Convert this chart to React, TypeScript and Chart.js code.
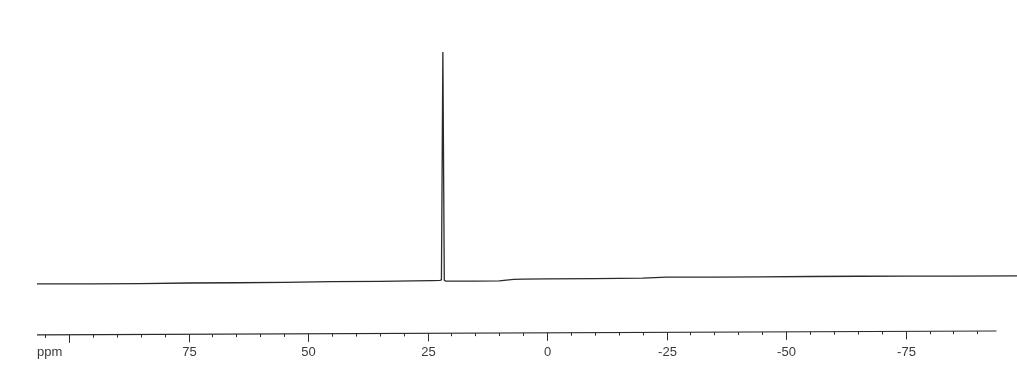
import React, { useEffect, useRef } from "react";
import { Chart, registerables } from "chart.js";

Chart.register(...registerables);

// Chemical shift (ppm) and intensity of the spectrum trace
const shiftPpm = [106.7, 95, 85, 75, 65, 55, 45, 35, 28, 24, 22.4, 22.1, 21.8, 21.5, 21.2, 20, 15, 10, 7, 5, 0, -10, -20, -25, -35, -45, -55, -65, -75, -85, -98.3];
const intensity = [0, 0, 0.1, 0.4, 0.5, 0.7, 1.0, 1.1, 1.3, 1.4, 1.5, 1.8, 100, 1.6, 1.2, 1.2, 1.2, 1.3, 2.0, 2.1, 2.2, 2.3, 2.5, 2.9, 2.9, 3.0, 3.2, 3.3, 3.4, 3.4, 3.5];

// Axis ticks
const majorTicks = [100, 75, 50, 25, 0, -25, -50, -75];
const majorLabels = ["", "75", "50", "25", "0", "-25", "-50", "-75"];
const minorTicks = [105, 95, 90, 85, 80, 70, 65, 60, 55, 45, 40, 35, 30, 20, 15, 10, 5, -5, -10, -15, -20, -30, -35, -40, -45, -55, -60, -65, -70, -80, -85, -90];
const unitLabel = "ppm";
// axis line end points (ppm, level)
const axisPpm = [106.7, -94];
const axisLevel = [-22.0, -20.3];

export default function App() {
  const ref = useRef<HTMLCanvasElement | null>(null);

  useEffect(() => {
    document.body.style.margin = "0";
    const canvas = ref.current;
    if (!canvas) return;

    const axisPlugin = {
      id: "ppmAxis",
      afterDatasetsDraw(chart: any) {
        const ctx = chart.ctx;
        const xs = chart.scales.x;
        const ys = chart.scales.y;
        const levelAt = (p: number) => {
          const t = (p - axisPpm[0]) / (axisPpm[1] - axisPpm[0]);
          return axisLevel[0] + t * (axisLevel[1] - axisLevel[0]);
        };
        ctx.save();
        ctx.strokeStyle = "#2a2a2a";
        ctx.lineWidth = 1.2;
        ctx.beginPath();
        ctx.moveTo(xs.getPixelForValue(axisPpm[0]), ys.getPixelForValue(axisLevel[0]));
        ctx.lineTo(xs.getPixelForValue(axisPpm[1]), ys.getPixelForValue(axisLevel[1]));
        ctx.stroke();

        ctx.lineWidth = 1;
        minorTicks.forEach((p) => {
          const x = Math.round(xs.getPixelForValue(p)) + 0.5;
          const y = ys.getPixelForValue(levelAt(p));
          ctx.beginPath();
          ctx.moveTo(x, y);
          ctx.lineTo(x, y + 3);
          ctx.stroke();
        });
        ctx.fillStyle = "#3a3a3a";
        ctx.font = '13px "Liberation Sans Narrow", "Liberation Sans", sans-serif';
        ctx.textAlign = "center";
        ctx.textBaseline = "middle";
        majorTicks.forEach((p, i) => {
          const x = Math.round(xs.getPixelForValue(p)) + 0.5;
          const y = ys.getPixelForValue(levelAt(p));
          ctx.beginPath();
          ctx.moveTo(x, y);
          ctx.lineTo(x, y + 8);
          ctx.stroke();
          if (majorLabels[i]) ctx.fillText(majorLabels[i], x, 352);
        });
        ctx.textAlign = "left";
        ctx.fillText(unitLabel, xs.getPixelForValue(axisPpm[0]), 352);
        ctx.restore();
      },
    };

    const chart = new Chart(canvas, {
      type: "line",
      data: {
        datasets: [
          {
            data: shiftPpm.map((p, i) => ({ x: p, y: intensity[i] })),
            borderColor: "#2a2a2a",
            borderWidth: 1.3,
            pointRadius: 0,
            tension: 0,
            fill: false,
          },
        ],
      },
      options: {
        animation: false,
        responsive: false,
        devicePixelRatio: 1,
        layout: { padding: { left: 37, right: 0, top: 0, bottom: 0 } },
        plugins: { legend: { display: false }, tooltip: { enabled: false } },
        scales: {
          x: { type: "linear", reverse: true, min: -98.3, max: 106.7, display: false },
          y: { type: "linear", min: -39.7, max: 122.4, display: false },
        },
      },
      plugins: [axisPlugin],
    });
    return () => chart.destroy();
  }, []);

  return (
    <div style={{ width: 1017, height: 376, background: "#fff" }}>
      <canvas ref={ref} width={1017} height={376} />
    </div>
  );
}
